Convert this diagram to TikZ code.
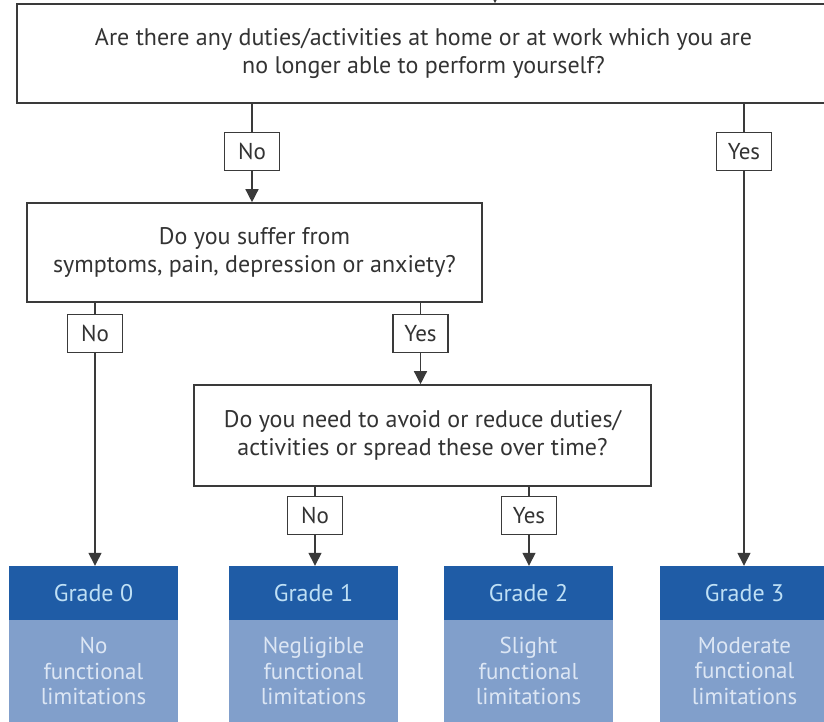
\documentclass[tikz,border=0pt]{standalone}
\usepackage{fontspec}
\setmainfont{PT Sans}
\usetikzlibrary{arrows.meta}
\definecolor{lineC}{HTML}{3A3A3A}
\definecolor{txtC}{HTML}{333333}
\definecolor{darkB}{HTML}{1F5CA6}
\definecolor{lightB}{HTML}{819FCB}
\definecolor{hdrT}{HTML}{BFE0F5}
\definecolor{lowT}{HTML}{DCE6F4}
\begin{document}
\begin{tikzpicture}[x=1pt,y=-1pt,
  qbox/.style={draw=lineC, line width=1.6pt, fill=white, align=center, inner sep=0pt,
    text=txtC, font=\fontsize{24}{28.5}\selectfont},
  lbl/.style={draw=lineC, line width=1.3pt, fill=white, inner sep=0pt,
    minimum width=55pt, minimum height=38pt, text=txtC, font=\fontsize{23}{25}\selectfont},
  conn/.style={draw=lineC, line width=1.4pt},
  arr/.style={conn, -{Triangle[length=13pt,width=13pt]}},
  ghead/.style={fill=darkB, minimum width=169pt, minimum height=54pt, inner sep=0pt,
    text=hdrT, font=\fontsize{24}{26}\selectfont},
  gbody/.style={fill=lightB, minimum width=169pt, minimum height=102pt, inner sep=0pt,
    text=lowT, align=center, font=\fontsize{23}{25.5}\selectfont}
]
\useasboundingbox (0,0) rectangle (824,722);
\clip (0,0) rectangle (824,722);

% questions
\node[qbox, minimum width=813pt, minimum height=99pt] (q1) at (423.5,53.5)
  {Are there any duties/activities at home or at work which you are\\no longer able to perform yourself?};
\node[qbox, minimum width=455pt, minimum height=99pt] (q2) at (254.5,252.5)
  {Do you suffer from\\symptoms, pain, depression or anxiety?};
\node[qbox, minimum width=457pt, minimum height=101pt] (q3) at (422.5,435.5)
  {Do you need to avoid or reduce duties/\\activities or spread these over time?};

% incoming arrow from above (cut off)
\coordinate (in) at (495,-30);
\draw[arr] (in) -- (in |- q1.north);

% labels
\node[lbl] (no1) at (252,151.5) {No};
\node[lbl] (yes1) at (744,151.5) {Yes};
\node[lbl] (no2) at (95,333.5) {No};
\node[lbl] (yes2) at (420.5,333.5) {Yes};
\node[lbl] (no3) at (315,515.5) {No};
\node[lbl] (yes3) at (529,515.5) {Yes};

% grade boxes
\node[gbody] (g0b) at (93.5,671) {No\\functional\\limitations};
\node[ghead] (g0h) at (93.5,593) {Grade 0};
\node[gbody] (g1b) at (313.5,671) {Negligible\\functional\\limitations};
\node[ghead] (g1h) at (313.5,593) {Grade 1};
\node[gbody] (g2b) at (528.5,671) {Slight\\functional\\limitations};
\node[ghead] (g2h) at (528.5,593) {Grade 2};
\node[gbody] (g3b) at (744.5,671) {Moderate\\functional\\limitations};
\node[ghead] (g3h) at (744.5,593) {Grade 3};

% connectors
\draw[conn] (no1.north |- q1.south) -- (no1.north);
\draw[arr] (no1.south) -- (no1.south |- q2.north);
\draw[conn] (yes1.north |- q1.south) -- (yes1.north);
\draw[arr] (yes1.south) -- (yes1.south |- g3h.north);

\draw[conn] (no2.north |- q2.south) -- (no2.north);
\draw[arr] (no2.south) -- (no2.south |- g0h.north);
\draw[conn] (yes2.north |- q2.south) -- (yes2.north);
\draw[arr] (yes2.south) -- (yes2.south |- q3.north);

\draw[conn] (no3.north |- q3.south) -- (no3.north);
\draw[arr] (no3.south) -- (no3.south |- g1h.north);
\draw[conn] (yes3.north |- q3.south) -- (yes3.north);
\draw[arr] (yes3.south) -- (yes3.south |- g2h.north);
\end{tikzpicture}
\end{document}
